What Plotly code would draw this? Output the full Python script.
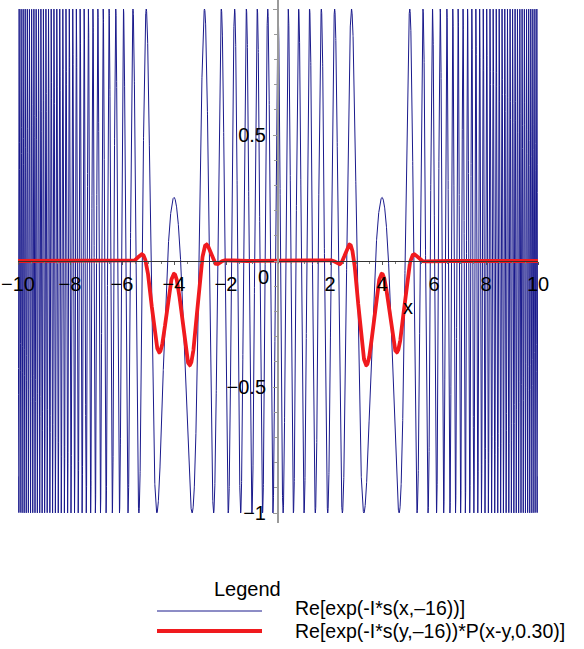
import numpy as np
import plotly.graph_objects as go

# ---- chart parameters ----
phase_coef = -16          # s(x, a) = x^3/3 + a*x
kernel_width = 0.30       # P(x-y, 0.30): Gaussian smoothing kernel width
x_range = [-10, 10]
y_range = [-1.0397, 1.0357]
x_tick_vals = [-10, -8, -6, -4, -2, 2, 4, 6, 8, 10]
x_tick_text = ["\u221210", "\u22128", "\u22126", "\u22124", "\u22122", "2", "4", "6", "8", "10"]
y_tick_vals = [-1, -0.5, 0.5, 1]
y_tick_text = ["\u22121", "\u22120.5", "0.5", "1"]
legend_title = "Legend"
series_names = ["Re[exp(-I*s(x,\u201316))]", "Re[exp(-I*s(y,\u201316))*P(x-y,0.30)]"]
series_colors = ["#1a1a8c", "#f01a1e"]


def s(x, a):
    return x ** 3 / 3 + a * x


# blue: Re[exp(-I*s(x,-16))]
xb = np.linspace(x_range[0], x_range[1], 14001)
yb = np.cos(s(xb, phase_coef))

# red: smoothed version (convolution with kernel P)
dx = 0.002
xg = np.arange(-12, 12 + dx / 2, dx)
fg = np.cos(s(xg, phase_coef))
u = np.arange(-5 * kernel_width, 5 * kernel_width + dx / 2, dx)
ker = np.exp(-u ** 2 / (2 * kernel_width ** 2))
ker /= ker.sum()
conv = np.convolve(fg, ker, mode="same")
mask = (xg >= x_range[0] - 1e-9) & (xg <= x_range[1] + 1e-9)
xr = xg[mask][::2]
yr = conv[mask][::2]

W, H = 584, 649
ml, mr, mt, mb = 18, 46, 0, 126
pw, ph = W - ml - mr, H - mt - mb

fig = go.Figure()
fig.add_trace(go.Scatter(x=xb, y=yb, mode="lines", name=series_names[0],
                         line=dict(color=series_colors[0], width=1), showlegend=False))
fig.add_trace(go.Scatter(x=xr, y=yr, mode="lines", name=series_names[1],
                         line=dict(color=series_colors[1], width=3.8), showlegend=False))

font = dict(family="Liberation Sans, Arial, sans-serif", size=20, color="black")
legend_font = dict(family="Liberation Sans, Arial, sans-serif", size=19.5, color="black")

fig.update_layout(
    width=W, height=H,
    margin=dict(l=ml, r=mr, t=mt, b=mb, autoexpand=False),
    paper_bgcolor="white", plot_bgcolor="white",
    font=font,
    xaxis=dict(range=x_range, anchor="free", position=(0 - y_range[0]) / (y_range[1] - y_range[0]),
               automargin=False,
               showgrid=False, zeroline=False, showline=True, linecolor="#333333", linewidth=1,
               tickmode="array", tickvals=x_tick_vals, ticktext=x_tick_text,
               ticks="outside", ticklen=3, tickcolor="#555555", tickfont=font,
               ticklabelstandoff=2,
               minor=dict(tickvals=list(np.arange(-10, 10.01, 0.5)), ticks="outside", ticklen=2, tickcolor="#777777")),
    yaxis=dict(range=y_range, anchor="free", position=0.5, automargin=False,
               showgrid=False, zeroline=False, showline=True, linecolor="#9a9a9a", linewidth=2,
               tickmode="array", tickvals=y_tick_vals, ticktext=y_tick_text,
               ticks="outside", ticklen=4, tickcolor="#9a9a9a", tickfont=font,
               ticklabelstandoff=3,
               minor=dict(tickvals=[round(v, 2) for v in np.arange(-1, 1.001, 0.1)], ticks="outside", ticklen=3, tickcolor="#9a9a9a")),
)


def px_to_paper(px, py):
    return (px - ml) / pw, (H - mb - py) / ph


annotations = []
# origin label and axis name
ox, oy = px_to_paper(263, 277)
annotations.append(dict(x=ox, y=oy, xref="paper", yref="paper", text="0", showarrow=False, font=font,
                        xanchor="center", yanchor="middle"))
ax_, ay_ = px_to_paper(408, 307)
annotations.append(dict(x=ax_, y=ay_, xref="paper", yref="paper", text="x", showarrow=False, font=font,
                        xanchor="center", yanchor="middle"))
# manual legend
lx, ly = px_to_paper(247, 589)
annotations.append(dict(x=lx, y=ly, xref="paper", yref="paper", text=legend_title, showarrow=False, font=font,
                        xanchor="center", yanchor="middle"))
shapes = []
legend_rows = [611, 631]
legend_text_rows = [608.5, 631]
legend_widths = [1, 3.8]
for name, color, row, trow, lw in zip(series_names, series_colors, legend_rows, legend_text_rows, legend_widths):
    x0, y0 = px_to_paper(157, row)
    x1, _ = px_to_paper(262, row)
    shapes.append(dict(type="line", xref="paper", yref="paper", x0=x0, x1=x1, y0=y0, y1=y0,
                       line=dict(color=color, width=lw)))
    tx, ty = px_to_paper(294, trow)
    annotations.append(dict(x=tx, y=ty, xref="paper", yref="paper", text=name, showarrow=False,
                            font=legend_font, xanchor="left", yanchor="middle", borderpad=0))

fig.update_layout(annotations=annotations, shapes=shapes)
fig.write_html("out.html", config={"displayModeBar": False},
               post_script="document.body.style.margin='0px';document.body.style.padding='0px';")
